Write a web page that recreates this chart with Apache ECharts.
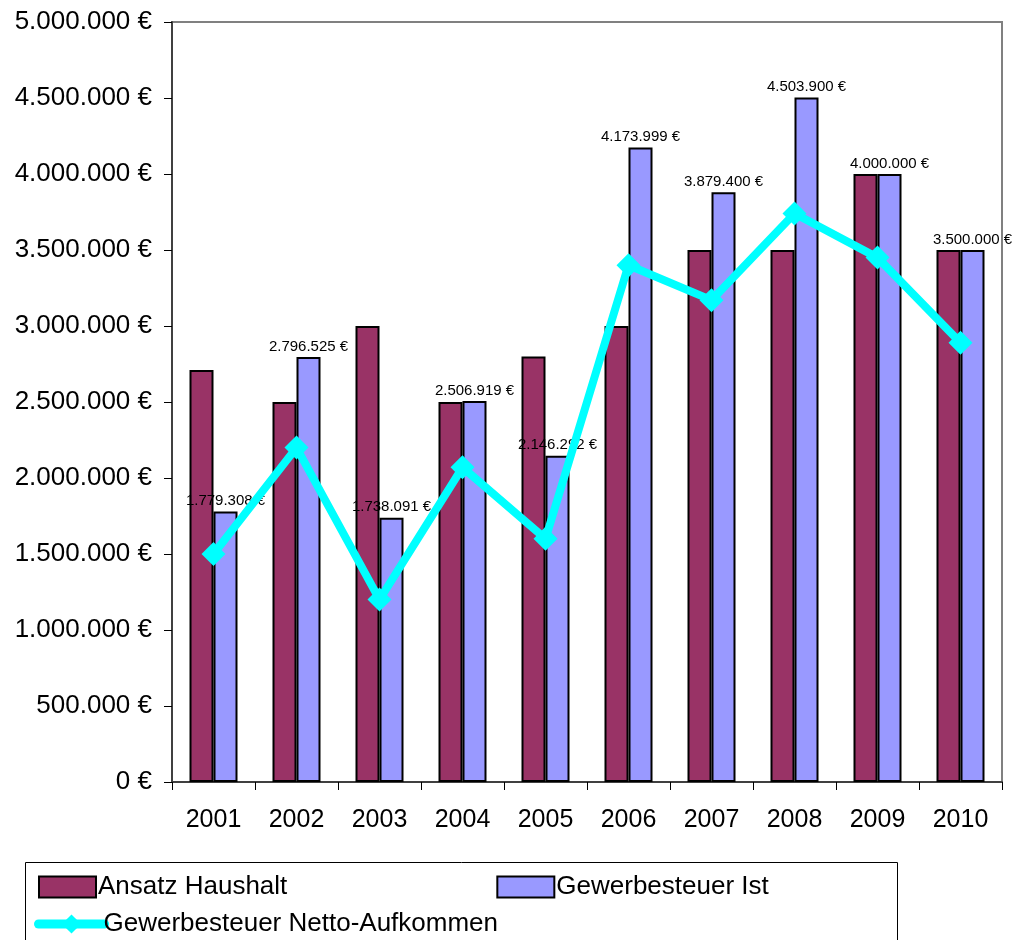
<!DOCTYPE html>
<html>
<head>
<meta charset="utf-8">
<script src="https://cdn.jsdelivr.net/npm/echarts@6/dist/echarts.min.js"></script>
<style>
	html, body { margin: 0; padding: 0; background: #fff; }
	#chart { width: 1018px; height: 940px; }
</style>
</head>
<body>
<div id="chart"></div>
<script>
var years = ['2001', '2002', '2003', '2004', '2005', '2006', '2007', '2008', '2009', '2010'];
var ansatz = [2710000, 2500000, 3000000, 2500000, 2800000, 3000000, 3500000, 3500000, 4000000, 3500000];
var ist = [1779308, 2796525, 1738091, 2506919, 2146292, 4173999, 3879400, 4503900, 4000000, 3500000];
var netto = [1500000, 2200000, 1200000, 2070000, 1600000, 3400000, 3170000, 3740000, 3450000, 2890000];

// Zahl mit Tausenderpunkten + Euro
function euro(v) {
	return String(Math.round(v)).replace(/\B(?=(\d{3})+(?!\d))/g, '.') + ' €';
}

var chart = echarts.init(document.getElementById('chart'));
var font = 'Liberation Sans, Arial, sans-serif';
var legendText = { fontSize: 26, fontFamily: font, color: '#000', padding: [0, 0, 0, -3] };

var option = {
	animation: false,
	textStyle: { fontFamily: font, color: '#000' },
	grid: {
		left: 172, right: 16, top: 22, bottom: 158,
		show: true, borderColor: '#808080', borderWidth: 2
	},
	legend: [{
		left: 33, top: 869,
		itemWidth: 57, itemHeight: 21, itemGap: 209,
		icon: 'rect',
		textStyle: legendText,
		data: ['Ansatz Haushalt', 'Gewerbesteuer Ist']
	}, {
		left: 29, top: 906,
		itemWidth: 66, itemHeight: 24,
		lineStyle: { width: 9, color: '#00FFFF', cap: 'round' },
		textStyle: { fontSize: 26, fontFamily: font, color: '#000', padding: [0, 0, 0, -6] },
		data: ['Gewerbesteuer Netto-Aufkommen']
	}],
	graphic: [{
		type: 'rect',
		shape: { x: 25.5, y: 862.5, width: 872, height: 100 },
		style: { fill: 'none', stroke: '#000', lineWidth: 1 }
	}],
	xAxis: {
		type: 'category',
		data: years,
		axisLine: { lineStyle: { color: '#404040', width: 2 } },
		axisTick: { show: true, length: 8, lineStyle: { color: '#000', width: 1 } },
		axisLabel: { fontSize: 25, color: '#000', margin: 26, fontFamily: font }
	},
	yAxis: {
		type: 'value',
		min: 0, max: 5000000, interval: 500000,
		splitLine: { show: false },
		axisLine: { show: true, lineStyle: { color: '#404040', width: 2 } },
		axisTick: { show: true, length: 8, lineStyle: { color: '#000', width: 1 } },
		axisLabel: { fontSize: 26, color: '#000', margin: 20, fontFamily: font, formatter: euro }
	},
	series: [{
		name: 'Ansatz Haushalt',
		type: 'bar',
		data: ansatz,
		barWidth: 24,
		barGap: '0%',
		itemStyle: { color: '#993366', borderColor: '#000', borderWidth: 2 }
	}, {
		name: 'Gewerbesteuer Ist',
		type: 'bar',
		data: ist,
		barWidth: 24,
		barGap: '0%',
		itemStyle: { color: '#9999FF', borderColor: '#000', borderWidth: 2 },
		label: {
			show: true, position: 'top', distance: 3,
			fontSize: 15, color: '#000', fontFamily: font,
			formatter: function(p) { return euro(p.value); }
		}
	}, {
		name: 'Gewerbesteuer Netto-Aufkommen',
		type: 'line',
		data: netto,
		z: 5,
		symbol: 'diamond',
		symbolSize: 24,
		lineStyle: { color: '#00FFFF', width: 8 },
		itemStyle: { color: '#00FFFF' }
	}]
};

chart.setOption(option);
</script>
</body>
</html>
